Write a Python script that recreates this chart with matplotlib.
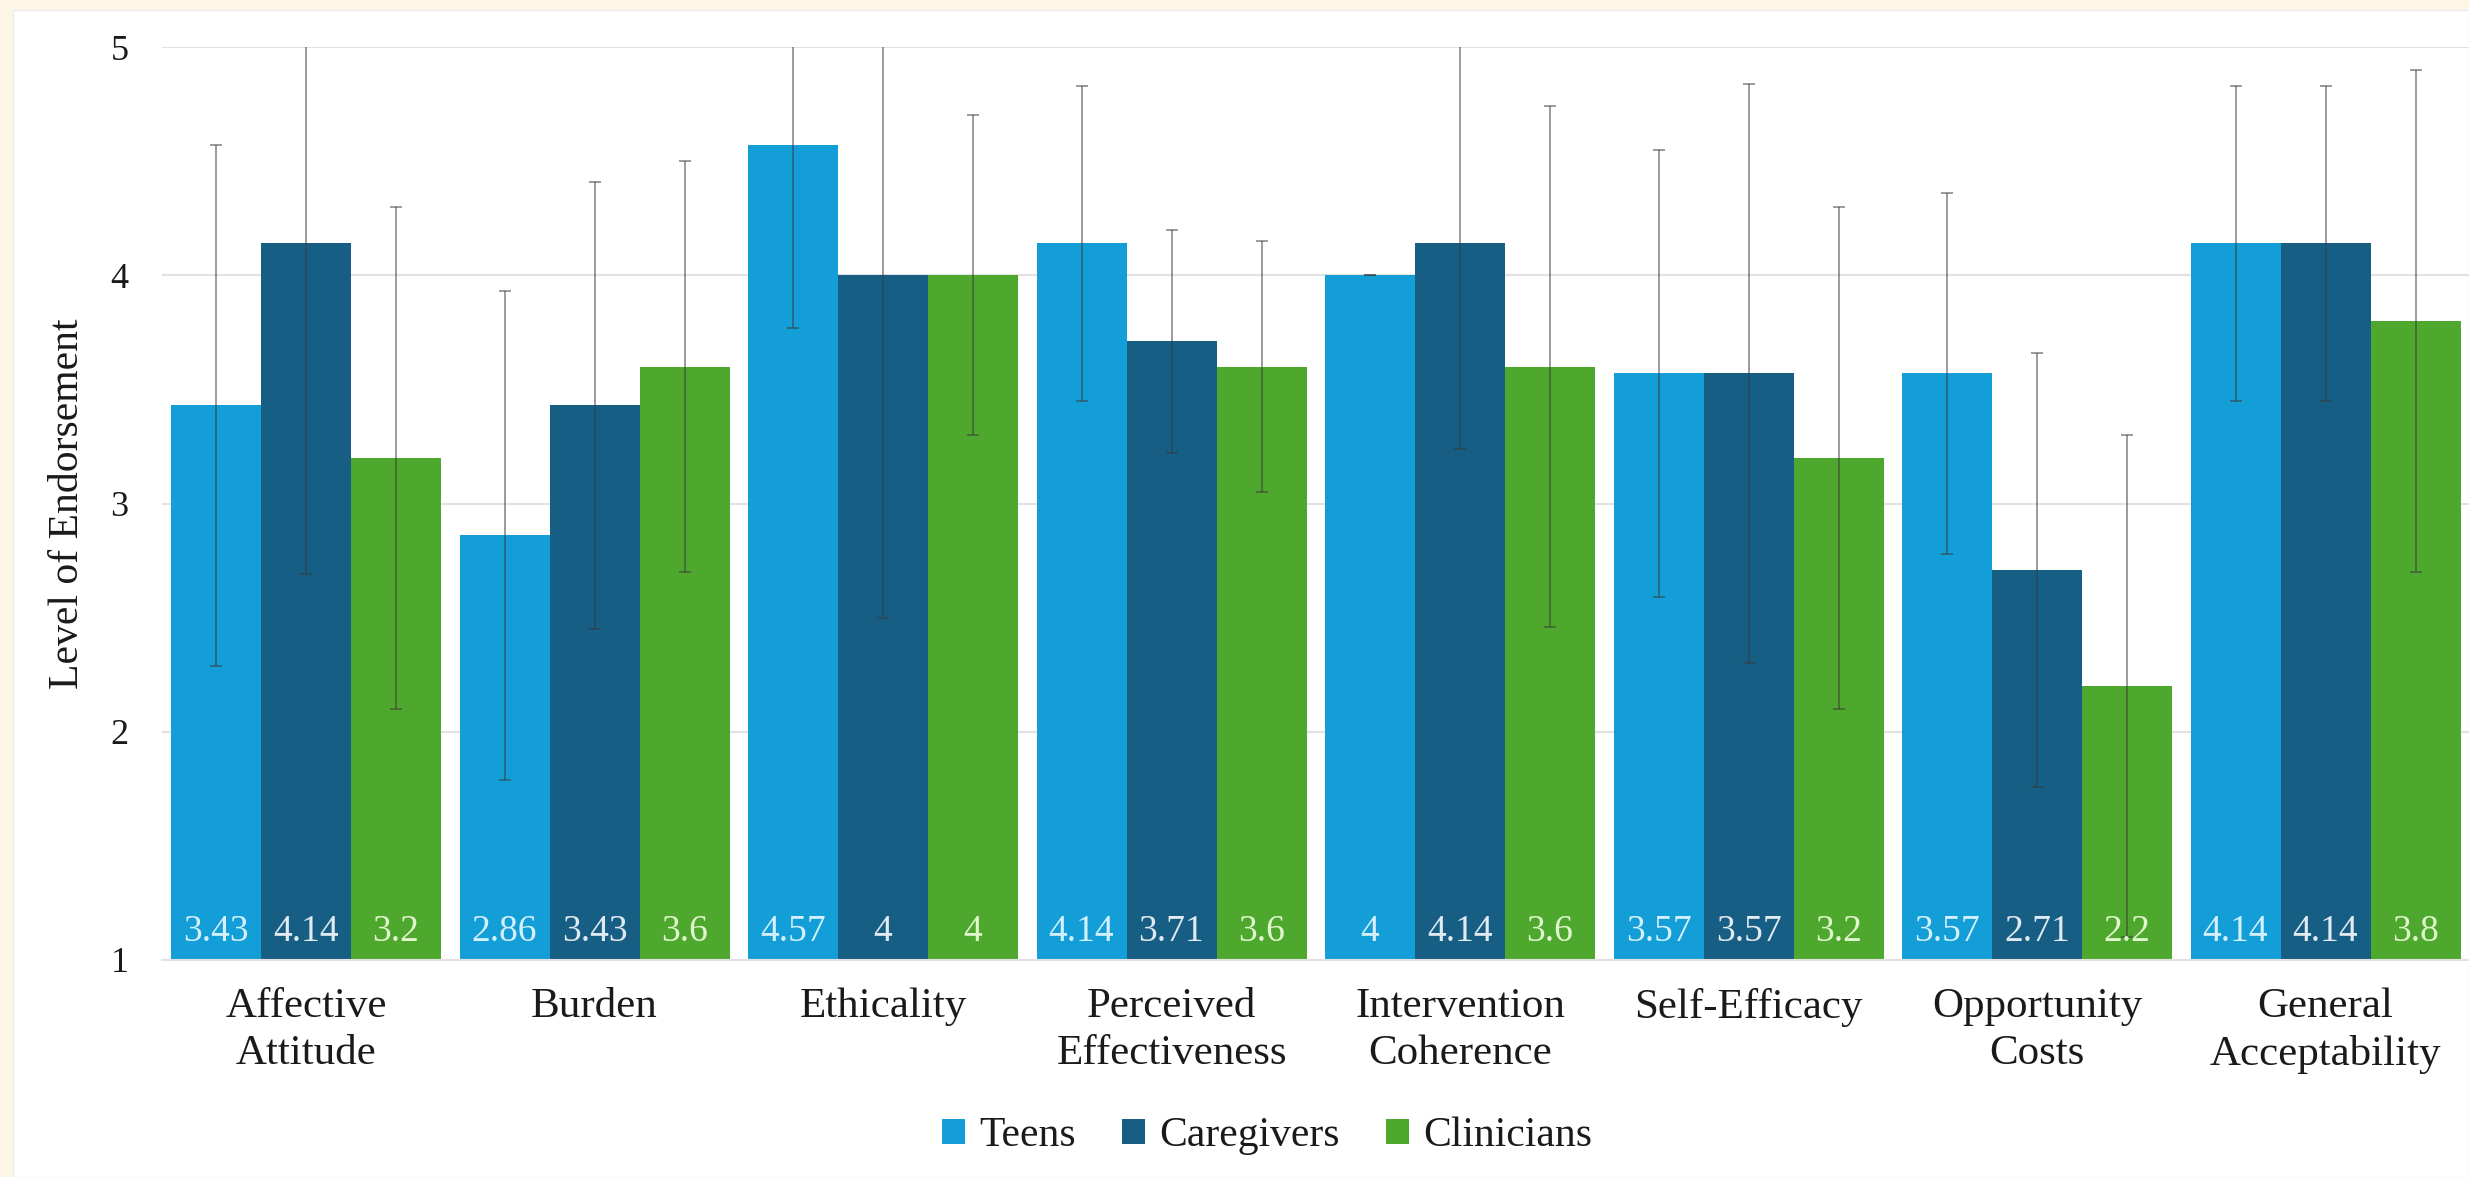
import numpy as np
import matplotlib
matplotlib.use("Agg")
import matplotlib.pyplot as plt
from matplotlib.patches import Rectangle

plt.rcParams["font.family"] = ["Liberation Serif", "DejaVu Serif"]

# ---- data -------------------------------------------------------------
categories = ["Affective\nAttitude", "Burden", "Ethicality",
              "Perceived\nEffectiveness", "Intervention\nCoherence",
              "Self-Efficacy", "Opportunity\nCosts", "General\nAcceptability"]
series_names = ["Teens", "Caregivers", "Clinicians"]

teens = [3.43, 2.86, 4.57, 4.14, 4.00, 3.57, 3.57, 4.14]
caregivers = [4.14, 3.43, 4.00, 3.71, 4.14, 3.57, 2.71, 4.14]
clinicians = [3.20, 3.60, 4.00, 3.60, 3.60, 3.20, 2.20, 3.80]

teens_sd = [1.14, 1.07, 0.80, 0.69, 0.00, 0.98, 0.79, 0.69]
caregivers_sd = [1.45, 0.98, 1.50, 0.49, 0.90, 1.27, 0.95, 0.69]
clinicians_sd = [1.10, 0.90, 0.70, 0.55, 1.14, 1.10, 1.10, 1.10]

y_ticks = [1, 2, 3, 4, 5]

# ---- styling ----------------------------------------------------------
bar_colors = ["#139ED7", "#175E84", "#4FA82E"]
label_colors = ["#D3F0FC", "#E2EAF1", "#E0F6CC"]
W, H, DPI = 2469, 1177, 100

fig = plt.figure(figsize=(W / DPI, H / DPI), dpi=DPI, facecolor="#FDF6E6")
# white chart panel inset from the top-left
panel = Rectangle((13 / W, 0), 1 - 13 / W, 1 - 10 / H, transform=fig.transFigure,
                  facecolor="white", edgecolor="#ECECEC", linewidth=1.0, zorder=-10)
fig.add_artist(panel)

ax_left, ax_right = 161.75, 2469.75
ax_top, ax_bottom = 47, 960
ax = fig.add_axes([ax_left / W, 1 - ax_bottom / H,
                   (ax_right - ax_left) / W, (ax_bottom - ax_top) / H])
ax.set_facecolor("none")

x = np.arange(len(categories))
group_w = 270 / 288.5
bw = group_w / 3
values = [teens, caregivers, clinicians]
sds = [teens_sd, caregivers_sd, clinicians_sd]

for i, (vals, sd, col, lcol, name) in enumerate(zip(values, sds, bar_colors,
                                                    label_colors, series_names)):
    xpos = x + (i - 1) * bw
    ax.bar(xpos, vals, width=bw, color=col, label=name, zorder=2, linewidth=0)
    ax.errorbar(xpos, vals, yerr=sd, fmt="none", ecolor="#3A3A3A", alpha=0.55,
                elinewidth=1.3, capsize=4, capthick=1.3, zorder=3)
    for xp, v in zip(xpos, vals):
        ax.annotate(f"{v:g}", xy=(xp, 1), xytext=(0, 14), textcoords="offset points",
                    ha="center", va="baseline", color=lcol, fontsize=27, zorder=4)

ax.set_xlim(-0.5, len(categories) - 0.5)
ax.set_ylim(1, 5)
ax.set_yticks(y_ticks)
ax.set_yticklabels([str(t) for t in y_ticks])
ax.set_xticks(x)
ax.set_xticklabels(categories, linespacing=1.28)
ax.tick_params(axis="y", length=0, pad=24, labelsize=26, labelcolor="#1a1a1a")
ax.tick_params(axis="x", length=0, pad=20, labelsize=31, labelcolor="#1a1a1a")
ax.grid(axis="y", color="#E2E2E2", linewidth=1.5, zorder=0)
ax.set_axisbelow(True)
for s in ["top", "right", "left"]:
    ax.spines[s].set_visible(False)
ax.spines["bottom"].set_color("#E2E2E2")
ax.spines["bottom"].set_linewidth(1.5)

fig.text(68 / W, 1 - (ax_top + ax_bottom) / 2 / H, "Level of Endorsement",
         rotation=90, ha="center", va="center", fontsize=30, color="#1a1a1a")

leg = fig.legend(loc="center", bbox_to_anchor=(1267 / W, 1 - 1136 / H), ncol=3,
                 frameon=False, fontsize=30, handlelength=0.55, handleheight=0.55,
                 handletextpad=0.35, columnspacing=1.1, borderpad=0)
for t in leg.get_texts():
    t.set_color("#1a1a1a")

fig.savefig("out.png", dpi=DPI, facecolor=fig.get_facecolor())
